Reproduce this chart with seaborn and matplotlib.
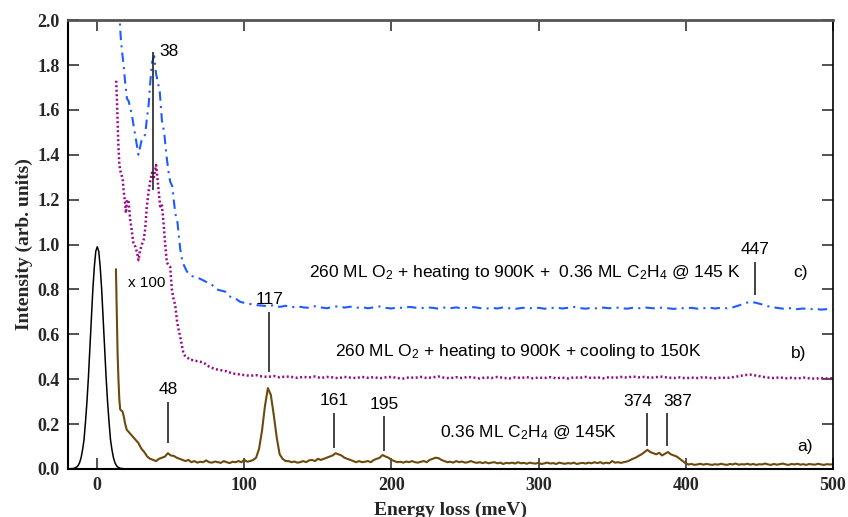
import numpy as np
import pandas as pd
import matplotlib
matplotlib.use("Agg")
import matplotlib.pyplot as plt
import seaborn as sns

# ---------------- data ----------------
# elastic peak (black)
elastic_x = [-20, -16, -14, -13, -12, -11, -10, -9, -8, -7, -6, -5, -4, -3, -2, -1, 0, 1, 2, 3,
             4, 5, 6, 7, 8, 9, 10, 11, 12, 13, 14, 16, 20, 30, 40]
elastic_y = [0.0, 0.002, 0.008, 0.015, 0.028, 0.05, 0.085, 0.13, 0.21, 0.30, 0.41, 0.54, 0.67, 0.80, 0.90, 0.97, 0.99, 0.97, 0.90, 0.80,
             0.67, 0.54, 0.41, 0.30, 0.21, 0.13, 0.085, 0.05, 0.028, 0.015, 0.008, 0.002, 0.0, 0.0, 0.0]

# curve a) brown (x100)
a_x_start = [12.7, 13.2, 13.8, 14.4, 15.0, 15.6, 16.4, 17.2, 18.0, 19.0]
a_y_start = [0.89, 0.72, 0.52, 0.40, 0.31, 0.265, 0.26, 0.255, 0.235, 0.20]
a_x_grid = np.arange(20, 501, 2)
a_y_grid = [
    0.175, 0.16, 0.145, 0.13, 0.115, 0.09, 0.075, 0.055, 0.045, 0.04,      # 20-38
    0.035, 0.045, 0.05, 0.055, 0.07, 0.06, 0.058, 0.05, 0.045, 0.04,       # 40-58
    0.035, 0.04, 0.03, 0.035, 0.028, 0.032, 0.03, 0.038, 0.03, 0.028,      # 60-78
    0.033, 0.03, 0.027, 0.035, 0.03, 0.026, 0.032, 0.03, 0.035, 0.03,      # 80-98
    0.04, 0.032, 0.035, 0.04, 0.05, 0.09, 0.17, 0.28, 0.36, 0.33,          # 100-118
    0.24, 0.14, 0.065, 0.045, 0.035, 0.035, 0.03, 0.033, 0.028, 0.03,      # 120-138
    0.035, 0.03, 0.038, 0.04, 0.035, 0.045, 0.04, 0.045, 0.05, 0.055,      # 140-158
    0.06, 0.07, 0.065, 0.06, 0.05, 0.045, 0.04, 0.035, 0.03, 0.035,        # 160-178
    0.03, 0.032, 0.035, 0.03, 0.04, 0.045, 0.05, 0.062, 0.055, 0.05,       # 180-198
    0.04, 0.035, 0.03, 0.032, 0.028, 0.033, 0.03, 0.035, 0.03, 0.028,      # 200-218
    0.032, 0.035, 0.03, 0.04, 0.045, 0.05, 0.048, 0.04, 0.035, 0.03,       # 220-238
    0.032, 0.028, 0.035, 0.03, 0.033, 0.028, 0.03, 0.035, 0.03, 0.027,     # 240-258
    0.03, 0.026, 0.03, 0.025, 0.028, 0.03, 0.025, 0.028, 0.022, 0.027,     # 260-278
    0.025, 0.028, 0.024, 0.03, 0.025, 0.027, 0.023, 0.028, 0.025, 0.024,   # 280-298
    0.027, 0.022, 0.025, 0.028, 0.024, 0.026, 0.022, 0.028, 0.025, 0.023,  # 300-318
    0.026, 0.024, 0.028, 0.022, 0.025, 0.027, 0.024, 0.028, 0.025, 0.03,   # 320-338
    0.026, 0.03, 0.024, 0.028, 0.025, 0.035, 0.028, 0.03, 0.027, 0.03,     # 340-358
    0.033, 0.038, 0.045, 0.05, 0.058, 0.065, 0.075, 0.085, 0.075, 0.07,    # 360-378
    0.065, 0.072, 0.06, 0.068, 0.075, 0.065, 0.06, 0.055, 0.045, 0.035,    # 380-398
    0.025, 0.02, 0.022, 0.018, 0.02, 0.023, 0.019, 0.022, 0.02, 0.018,    # 400-418
    0.021, 0.019, 0.023, 0.02, 0.018, 0.022, 0.02, 0.024, 0.019, 0.021,   # 420-438
    0.02, 0.023, 0.019, 0.022, 0.018, 0.021, 0.02, 0.024, 0.02, 0.018,    # 440-458
    0.022, 0.019, 0.021, 0.024, 0.02, 0.018, 0.022, 0.02, 0.023, 0.019,   # 460-478
    0.021, 0.018, 0.022, 0.02, 0.019, 0.023, 0.02, 0.018, 0.021, 0.02,    # 480-498
    0.02,                                                                  # 500
]

# curve b) purple dotted
b_x_start = [12.9, 13.6, 14.3, 15.0, 15.6, 16.5, 17.3, 17.9, 18.7, 19.5,
             20.2, 21.3, 22.4, 23.5, 24.7, 26.0, 27.2, 28.0, 29.0, 30.3,
             31.5, 32.6, 33.7, 35.0, 36.2, 37.2, 38.5, 40.0, 41.0, 42.0,
             42.8, 43.9, 45.0, 46.2, 47.3, 48.3, 49.6, 50.7, 51.8, 53.0,
             54.2, 55.3, 56.4, 57.5, 58.6, 60.0, 61.5, 63.0]
b_y_start = [1.73, 1.60, 1.45, 1.36, 1.33, 1.31, 1.29, 1.24, 1.20, 1.14,
             1.20, 1.19, 1.11, 1.06, 1.00, 0.99, 0.96, 0.93, 0.97, 1.00,
             1.02, 1.07, 1.17, 1.24, 1.29, 1.32, 1.30, 1.355, 1.29, 1.22,
             1.17, 1.18, 1.10, 1.00, 0.92, 0.91, 0.90, 0.80, 0.76, 0.73,
             0.66, 0.62, 0.59, 0.55, 0.515, 0.50, 0.495, 0.486]
b_x_grid = np.arange(64, 501, 4)
b_y_grid = [
    0.486, 0.48, 0.475, 0.456, 0.445, 0.44, 0.435, 0.425, 0.422, 0.418,   # 64-100
    0.415, 0.418, 0.412, 0.41, 0.414, 0.408, 0.412, 0.41, 0.406, 0.41,    # 104-140
    0.408, 0.412, 0.405, 0.41, 0.408, 0.404, 0.41, 0.407, 0.405, 0.41,    # 144-180
    0.406, 0.409, 0.404, 0.408, 0.41, 0.405, 0.403, 0.408, 0.406, 0.41,   # 184-220
    0.405, 0.408, 0.412, 0.406, 0.404, 0.409, 0.405, 0.41, 0.407, 0.403,  # 224-260
    0.408, 0.405, 0.41, 0.406, 0.403, 0.408, 0.405, 0.409, 0.404, 0.407,  # 264-300
    0.405, 0.409, 0.404, 0.407, 0.403, 0.408, 0.406, 0.41, 0.405, 0.408,  # 304-340
    0.404, 0.409, 0.406, 0.41, 0.407, 0.412, 0.408, 0.41, 0.406, 0.409,   # 344-380
    0.411, 0.407, 0.405, 0.408, 0.404, 0.407, 0.405, 0.409, 0.406, 0.404, # 384-420
    0.407, 0.405, 0.409, 0.413, 0.418, 0.42, 0.416, 0.411, 0.407, 0.405,  # 424-460
    0.408, 0.404, 0.406, 0.403, 0.407, 0.404, 0.402, 0.405, 0.403, 0.404, # 464-500
]

# curve c) blue dash-dot
c_x_start = [14.8, 16.0, 17.0, 17.9, 19.0, 20.2, 21.3, 22.4, 23.5, 24.7,
             26.0, 27.0, 28.0, 29.0, 30.3, 31.5, 32.6, 33.7, 34.9, 36.0,
             37.2, 38.7, 40.0, 41.0, 42.5, 44.0, 45.5, 47.0, 48.3, 49.6,
             51.0, 52.0, 53.0, 54.5, 56.4, 58.0, 59.5, 60.9, 62.5, 64.0,
             66.6, 69.0, 72.2, 75.0, 78.0, 81.3, 84.0, 87.0, 89.5, 91.5,
             94.0, 97.0]
c_y_start = [2.05, 1.92, 1.85, 1.80, 1.72, 1.65, 1.64, 1.61, 1.58, 1.53,
             1.48, 1.44, 1.40, 1.43, 1.47, 1.48, 1.49, 1.56, 1.62, 1.72,
             1.81, 1.84, 1.76, 1.73, 1.68, 1.55, 1.50, 1.40, 1.33, 1.28,
             1.26, 1.20, 1.14, 1.10, 0.98, 0.92, 0.90, 0.88, 0.87, 0.86,
             0.855, 0.85, 0.84, 0.83, 0.82, 0.80, 0.795, 0.79, 0.77, 0.765,
             0.76, 0.745]
c_x_grid = np.arange(100, 501, 4)
c_y_grid = [
    0.74, 0.735, 0.73, 0.728, 0.725, 0.73, 0.722, 0.727, 0.72, 0.725,     # 100-136
    0.72, 0.718, 0.725, 0.72, 0.716, 0.722, 0.725, 0.719, 0.723, 0.718,   # 140-176
    0.721, 0.716, 0.72, 0.724, 0.718, 0.715, 0.72, 0.717, 0.722, 0.719,   # 180-216
    0.716, 0.72, 0.718, 0.714, 0.719, 0.716, 0.72, 0.715, 0.718, 0.721,   # 220-256
    0.717, 0.714, 0.718, 0.715, 0.72, 0.716, 0.713, 0.717, 0.719, 0.715,  # 260-296
    0.718, 0.714, 0.716, 0.72, 0.715, 0.718, 0.722, 0.717, 0.714, 0.718,  # 300-336
    0.715, 0.719, 0.716, 0.72, 0.717, 0.714, 0.718, 0.716, 0.72, 0.717,   # 340-376
    0.715, 0.719, 0.716, 0.713, 0.717, 0.715, 0.718, 0.714, 0.716, 0.719, # 380-416
    0.715, 0.718, 0.716, 0.72, 0.728, 0.738, 0.745, 0.74, 0.733, 0.725,   # 420-456
    0.72, 0.716, 0.713, 0.717, 0.712, 0.715, 0.711, 0.714, 0.71, 0.712,   # 460-496
    0.711,                                                                 # 500
]

# peak markers: position, line bottom, line top
peak_pos = [38, 117, 48, 161, 195, 374, 387, 447]
peak_lo = [1.243, 0.43, 0.115, 0.093, 0.08, 0.10, 0.10, 0.775]
peak_hi = [1.86, 0.70, 0.30, 0.25, 0.236, 0.248, 0.248, 0.923]

x_ticks = [0, 100, 200, 300, 400, 500]
y_ticks = [0.0, 0.2, 0.4, 0.6, 0.8, 1.0, 1.2, 1.4, 1.6, 1.8, 2.0]

# ---------------- build frames ----------------
df_el = pd.DataFrame({"E": elastic_x, "I": elastic_y})
df_a = pd.DataFrame({"E": list(a_x_start) + list(a_x_grid), "I": list(a_y_start) + list(a_y_grid)})
df_b = pd.DataFrame({"E": list(b_x_start) + list(b_x_grid), "I": list(b_y_start) + list(b_y_grid)})
df_c = pd.DataFrame({"E": list(c_x_start) + list(c_x_grid), "I": list(c_y_start) + list(c_y_grid)})

sns.set_theme(style="ticks")
plt.rcParams["font.family"] = ["Liberation Sans", "DejaVu Sans"]
plt.rcParams["mathtext.fontset"] = "custom"
plt.rcParams["mathtext.rm"] = "Liberation Sans"
plt.rcParams["mathtext.it"] = "Liberation Sans:italic"

fig = plt.figure(figsize=(8.48, 5.17), dpi=100)
ax = fig.add_axes([0.080, 0.093, 0.902, 0.868])

brown = "#6b4a0c"
purple = "#9a0a88"
blue = "#1e5cff"

sns.lineplot(data=df_el, x="E", y="I", ax=ax, color="black", lw=1.1, estimator=None, sort=False)
sns.lineplot(data=df_a, x="E", y="I", ax=ax, color=brown, lw=1.5, estimator=None, sort=False)
sns.lineplot(data=df_b, x="E", y="I", ax=ax, color=purple, lw=1.8, estimator=None, sort=False,
             linestyle=(0, (0.8, 1.0)))
sns.lineplot(data=df_c, x="E", y="I", ax=ax, color=blue, lw=1.5, estimator=None, sort=False,
             linestyle=(0, (4.5, 2.5, 1.0, 2.5)))

# peak marker lines
ax.vlines(peak_pos, peak_lo, peak_hi, colors="#222222", lw=1.2)

ann = dict(fontsize=12.5, color="black", family=["Liberation Sans", "DejaVu Sans"])
ax.text(42.5, 1.86, "38", ha="left", va="center", **ann)
ax.text(117, 0.72, "117", ha="center", va="bottom", **ann)
ax.text(48, 0.32, "48", ha="center", va="bottom", **ann)
ax.text(161, 0.27, "161", ha="center", va="bottom", **ann)
ax.text(195, 0.255, "195", ha="center", va="bottom", **ann)
ax.text(377, 0.268, "374", ha="right", va="bottom", **ann)
ax.text(385, 0.268, "387", ha="left", va="bottom", **ann)
ax.text(447, 0.945, "447", ha="center", va="bottom", **ann)
ax.text(21, 0.83, "x 100", ha="left", va="center", fontsize=11, color="black",
        family=["Liberation Sans", "DejaVu Sans"])

ax.text(291, 0.875, r"260 ML O$_2$ + heating to 900K +  0.36 ML C$_2$H$_4$ @ 145 K",
        ha="center", va="center", **ann)
ax.text(478, 0.875, "c)", ha="center", va="center", **ann)
ax.text(286, 0.525, r"260 ML O$_2$ + heating to 900K + cooling to 150K",
        ha="center", va="center", **ann)
ax.text(477, 0.515, "b)", ha="center", va="center", **ann)
ax.text(293, 0.16, r"0.36 ML C$_2$H$_4$ @ 145K", ha="center", va="center", **ann)
ax.text(481, 0.10, "a)", ha="center", va="center", **ann)

ax.set_xlim(-20, 500)
ax.set_ylim(0.0, 2.0)
ax.set_xticks(x_ticks)
ax.set_yticks(y_ticks)
ax.set_yticklabels([f"{v:.1f}" for v in y_ticks])
ax.set_xticklabels([str(v) for v in x_ticks])

serif = ["Liberation Serif", "DejaVu Serif"]
for lab in ax.get_xticklabels() + ax.get_yticklabels():
    lab.set_family(serif)
    lab.set_fontweight("bold")
    lab.set_fontsize(13)

ax.set_xlabel("Energy loss (meV)", family=serif, fontweight="bold", fontsize=14, labelpad=5)
ax.set_ylabel("Intensity (arb. units)", family=serif, fontweight="bold", fontsize=14, labelpad=3)

ax.tick_params(axis="both", which="both", direction="in", length=8, width=1.3, color="#444444",
               top=True, right=True, pad=6)
for side in ["left", "bottom"]:
    ax.spines[side].set_color("black")
    ax.spines[side].set_linewidth(1.5)
ax.spines["right"].set_color("black")
ax.spines["right"].set_linewidth(1.2)
ax.spines["top"].set_color("#555555")
ax.spines["top"].set_linewidth(2.0)

fig.savefig("out.png", dpi=100)
